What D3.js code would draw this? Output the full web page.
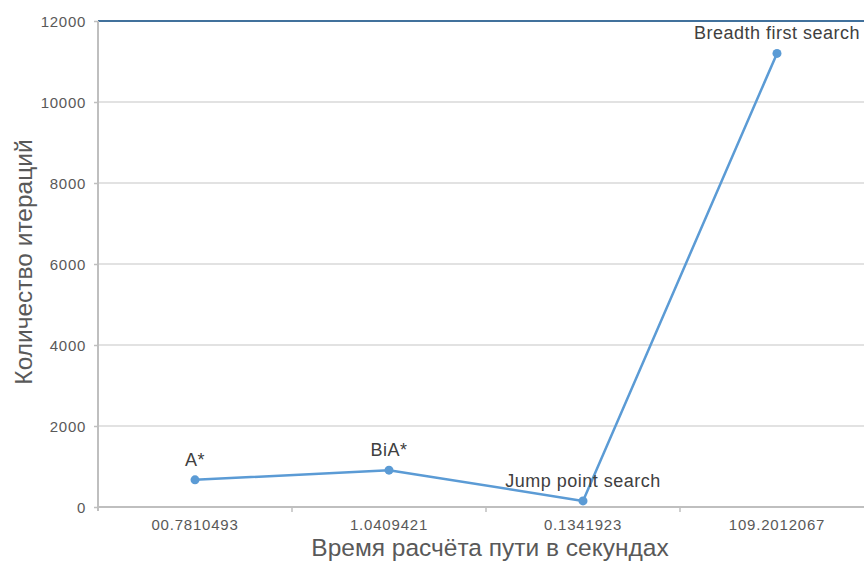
<!DOCTYPE html>
<html>
<head>
<meta charset="utf-8">
<script src="https://cdn.jsdelivr.net/npm/d3@7"></script>
<style>
  html, body { margin: 0; padding: 0; background: #fff; }
  svg { display: block; }
  text { font-family: "Liberation Sans", Arial, Helvetica, sans-serif; }
</style>
</head>
<body>
<svg id="chart" width="864" height="561"></svg>
<script>
// Path-finding benchmark: computation time (category) vs iteration count
const categories = ["00.7810493", "1.0409421", "0.1341923", "109.2012067"];
const algorithms = ["A*", "BiA*", "Jump point search", "Breadth first search"];
const iterations = [670, 910, 150, 11200];
const yTicks = [0, 2000, 4000, 6000, 8000, 10000, 12000];

const svg = d3.select("#chart");
const W = 864, H = 561;
const plotLeft = 98, bandW = 194;
const plotTop = 21, plotBottom = 507;

const x = d3.scaleBand()
  .domain(categories)
  .range([plotLeft, plotLeft + bandW * categories.length])
  .paddingInner(0).paddingOuter(0);

const y = d3.scaleLinear().domain([0, 12000]).range([plotBottom, plotTop]);

// horizontal gridlines
svg.append("g")
  .selectAll("line")
  .data(yTicks.filter(d => d > 0 && d < 12000))
  .join("line")
  .attr("x1", plotLeft).attr("x2", W)
  .attr("y1", d => y(d)).attr("y2", d => y(d))
  .attr("stroke", "#d9d9d9").attr("stroke-width", 1.5);

// top boundary line at the axis maximum
svg.append("line")
  .attr("x1", plotLeft).attr("x2", W)
  .attr("y1", y(12000)).attr("y2", y(12000))
  .attr("stroke", "#41719c").attr("stroke-width", 2);

// y axis
const yAxis = d3.axisLeft(y).tickValues(yTicks).tickFormat(d3.format("d"))
  .tickSize(4).tickPadding(8);
const gy = svg.append("g").attr("transform", `translate(${plotLeft},0)`).call(yAxis);
gy.select(".domain").attr("stroke", "#bfbfbf").attr("stroke-width", 2)
  .attr("d", `M0,${plotTop}V${plotBottom + 4}`);
gy.selectAll(".tick line").attr("stroke", "#bfbfbf").attr("stroke-width", 1.5);
gy.selectAll(".tick text").attr("fill", "#595959")
  .style("font-size", "15px").style("letter-spacing", "0.7px")
  .attr("dy", "0.35em");

// x axis
const xAxis = d3.axisBottom(x).tickSize(0).tickPadding(12);
const gx = svg.append("g").attr("transform", `translate(0,${plotBottom})`).call(xAxis);
gx.select(".domain").attr("stroke", "#bfbfbf").attr("stroke-width", 2)
  .attr("d", `M${plotLeft},0H${W}`);
gx.selectAll(".tick text").attr("fill", "#595959")
  .style("font-size", "15px").style("letter-spacing", "0.8px")
  .attr("dy", "0.71em");
// category separators
gx.append("g").selectAll("line")
  .data(categories.slice(1))
  .join("line")
  .attr("x1", d => x(d)).attr("x2", d => x(d))
  .attr("y1", 0).attr("y2", 5)
  .attr("stroke", "#bfbfbf").attr("stroke-width", 1.5);

// axis titles
svg.append("text")
  .attr("x", 490).attr("y", 556)
  .attr("text-anchor", "middle")
  .attr("fill", "#595959").style("font-size", "24.5px")
  .text("Время расчёта пути в секундах");

svg.append("text")
  .attr("transform", `translate(32,262) rotate(-90)`)
  .attr("text-anchor", "middle")
  .attr("fill", "#595959").style("font-size", "24.5px")
  .text("Количество итераций");

// series line
const pts = categories.map((c, i) => ({ cx: x(c) + x.bandwidth() / 2, v: iterations[i], name: algorithms[i] }));
const line = d3.line().x(d => d.cx).y(d => y(d.v)).curve(d3.curveLinear);

svg.append("path")
  .datum(pts)
  .attr("d", line)
  .attr("fill", "none")
  .attr("stroke", "#5b9bd5")
  .attr("stroke-width", 2.5)
  .attr("stroke-linejoin", "round");

svg.append("g").selectAll("circle")
  .data(pts)
  .join("circle")
  .attr("cx", d => d.cx).attr("cy", d => y(d.v))
  .attr("r", 4.5)
  .attr("fill", "#5b9bd5");

// data labels (algorithm names)
svg.append("g").selectAll("text")
  .data(pts)
  .join("text")
  .attr("x", d => d.cx)
  .attr("y", d => y(d.v) - 14)
  .attr("text-anchor", "middle")
  .attr("fill", "#404040")
  .style("font-size", "18px").style("letter-spacing", "0.5px")
  .text(d => d.name);
</script>
</body>
</html>
